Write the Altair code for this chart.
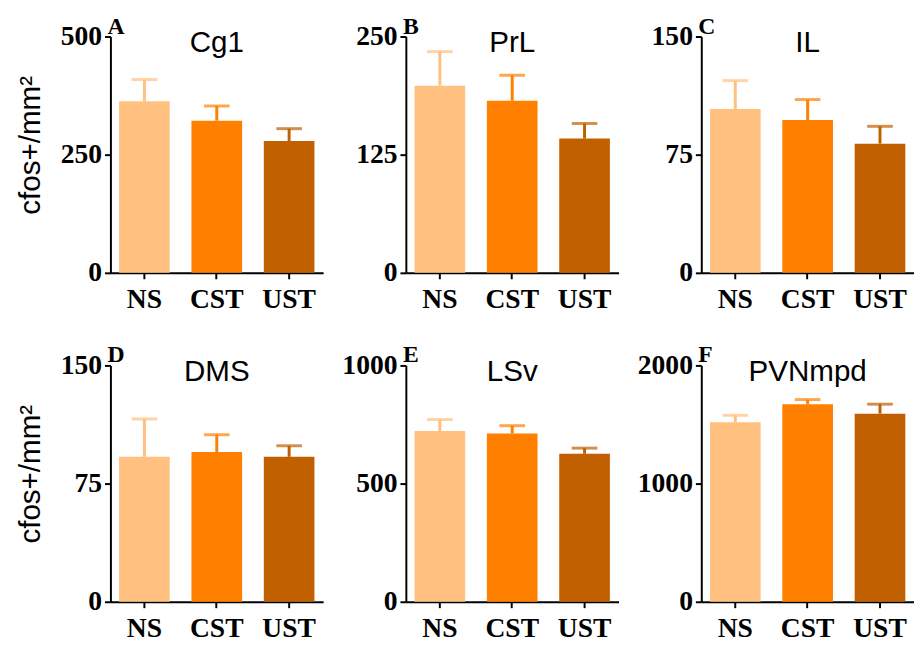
import altair as alt
import pandas as pd

regions = ["Cg1", "PrL", "IL", "DMS", "LSv", "PVNmpd"]
letters = ["A", "B", "C", "D", "E", "F"]
groups = ["NS", "CST", "UST"]
y_max = [500, 250, 150, 150, 1000, 2000]
mean_NS = [363, 198, 104, 92, 722, 1519]
mean_CST = [322, 182, 97, 95, 712, 1672]
mean_UST = [279, 142, 82, 92, 626, 1592]
sem_NS = [46, 36, 18, 24, 49, 59]
sem_CST = [31, 27, 13, 11, 33, 39]
sem_UST = [26, 16, 11, 7, 24, 80]
colors = ["#FFC080", "#FF8000", "#C06000"]

W, H = 216, 240
SERIF = "Liberation Serif"
SANS = "Liberation Sans"

panels = []
for i, reg in enumerate(regions):
    df = pd.DataFrame({
        "group": groups,
        "mean": [mean_NS[i], mean_CST[i], mean_UST[i]],
        "sem": [sem_NS[i], sem_CST[i], sem_UST[i]],
    })
    df["upper"] = df["mean"] + df["sem"]
    ymax = y_max[i]
    first_col = (i % 3 == 0)

    x = alt.X("group:N", sort=groups,
              scale=alt.Scale(paddingInner=0.3, paddingOuter=0.12),
              axis=alt.Axis(title=None, labelAngle=0, labelFont=SERIF,
                            labelFontWeight="bold", labelFontSize=28,
                            labelColor="black", labelPadding=7,
                            domainColor="black", domainWidth=2,
                            tickColor="black", tickWidth=2, tickSize=6))
    yaxis_kw = dict(values=[0, ymax / 2, ymax], format="d", grid=False,
                    labelFont=SERIF, labelFontWeight="bold", labelFontSize=28,
                    labelColor="black", labelPadding=3,
                    domainColor="black", domainWidth=2,
                    tickColor="black", tickWidth=2, tickSize=6,
                    minExtent=62, maxExtent=62)
    if first_col:
        yaxis = alt.Axis(title="cfos+/mm²", titleFont=SANS, titleFontSize=30,
                         titleFontWeight="normal", titleColor="black",
                         titlePadding=4, titleY=110, **yaxis_kw)
    else:
        yaxis = alt.Axis(title=None, **yaxis_kw)
    yscale = alt.Scale(domain=[0, ymax], nice=False)
    color = alt.Color("group:N", scale=alt.Scale(domain=groups, range=colors),
                      legend=None)

    base = alt.Chart(df)
    bars = base.mark_bar().encode(
        x=x, y=alt.Y("mean:Q", scale=yscale, axis=yaxis), color=color)
    stem = base.mark_rule(strokeWidth=3).encode(
        x=alt.X("group:N", sort=groups), y="mean:Q", y2="upper:Q", color=color)
    cap = base.mark_tick(size=26, thickness=3).encode(
        x=alt.X("group:N", sort=groups), y="upper:Q", color=color)

    tdf = pd.DataFrame({"t": [reg]})
    title = alt.Chart(tdf).mark_text(font=SANS, fontSize=30, color="black",
                                     align="center", baseline="alphabetic").encode(
        text="t:N", x=alt.value(W / 2), y=alt.value(16))
    ldf = pd.DataFrame({"t": [letters[i]]})
    letter = alt.Chart(ldf).mark_text(font=SERIF, fontSize=24, fontWeight="bold",
                                      color="black", align="left",
                                      baseline="alphabetic").encode(
        text="t:N", x=alt.value(-3), y=alt.value(-3))

    panel = alt.layer(bars, stem, cap, title, letter).properties(width=W, height=H)
    panels.append(panel)

chart = alt.concat(*panels, columns=3, spacing={"row": 31, "column": 19}).properties(
    padding={"left": 8, "top": 2, "right": 0, "bottom": 0}
).configure_view(strokeWidth=0)

chart.save("out.html", embed_options={"renderer": "svg", "actions": False})
